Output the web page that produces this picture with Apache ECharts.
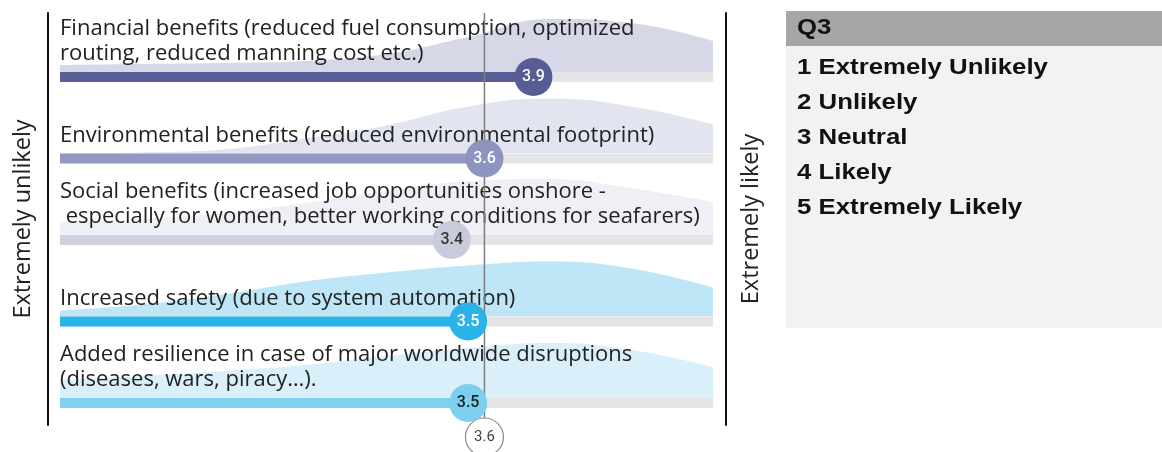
<!DOCTYPE html>
<html>
<head>
<meta charset="utf-8">
<title>Q3 – expected benefits</title>
<script src="https://cdn.jsdelivr.net/npm/echarts@6/dist/echarts.min.js"></script>
<style>
  html, body { margin: 0; padding: 0; background: #ffffff; }
  #chart { width: 1162px; height: 452px; }
</style>
</head>
<body>
<div id="chart"></div>
<script>
// ---- data ----
const categories = [
  'Financial benefits (reduced fuel consumption, optimized\nrouting, reduced manning cost etc.)',
  'Environmental benefits (reduced environmental footprint)',
  'Social benefits (increased job opportunities onshore -\n especially for women, better working conditions for seafarers)',
  'Increased safety (due to system automation)',
  'Added resilience in case of major worldwide disruptions\n(diseases, wars, piracy\u2026).'
];
const means = [3.9, 3.6, 3.4, 3.5, 3.5];
const overallMean = 3.6;
const scaleMin = 1;
const scaleMax = 5;

// answer distribution shapes, sampled along the 1–5 scale
const scorePoints = [1, 1.5, 2, 2.5, 3, 3.5, 4, 4.5, 5];
const densityFinancial     = [7, 8, 9, 11, 18, 35, 53, 49, 31];
const densityEnvironmental = [0, 1, 4, 15, 28, 47, 55, 47, 29];
const densitySocial        = [13, 16, 22, 32, 44, 54, 56, 47, 33];
const densitySafety        = [6, 12, 22, 35, 44, 51, 55, 48, 29];
const densityResilience    = [18, 22, 27, 33, 42, 50, 55, 48, 31];
const densities = [densityFinancial, densityEnvironmental, densitySocial, densitySafety, densityResilience];

const sideLabels = ['Extremely unlikely', 'Extremely likely'];
const legendTitle = 'Q3';
const legendItems = ['1 Extremely Unlikely', '2 Unlikely', '3 Neutral', '4 Likely', '5 Extremely Likely'];

// ---- styling ----
const barColors    = ['#595e96', '#9399c3', '#cfd1e0', '#29b4e8', '#80d1ef'];
const bubbleColors = ['#575c94', '#8d94c0', '#c9cbdd', '#2ab3e7', '#7dcfee'];
const bubbleText   = ['#ffffff', '#ffffff', '#333333', '#ffffff', '#1e1e1e'];
const shapeColors  = ['#d6d8e7', '#e2e4ef', '#eff0f6', '#bfe6f6', '#d9f0fa'];
const trackColor = '#e5e5e5';
const textFont = '"Open Sans", sans-serif';

const plotLeft = 60, plotRight = 449;
const bandTop = 36.25, bandHeight = 81.5, rowCount = categories.length;
const barWidth = 10, shapeHeight = 60;

const grids = [
  { left: plotLeft, right: plotRight, top: bandTop, height: bandHeight * rowCount }, // bars
  { left: 48, right: 436, top: 13, height: 412 },                                  // side rules
  { left: plotLeft, right: plotRight, top: 13, height: 424 }                        // overall mean
];
const xAxes = [
  { gridIndex: 0, type: 'value', min: scaleMin, max: scaleMax, show: false },
  { gridIndex: 1, type: 'value', min: 0, max: 1, show: false },
  { gridIndex: 2, type: 'value', min: scaleMin, max: scaleMax, show: false }
];
const sideAxisCommon = {
  gridIndex: 1, type: 'value', min: 0, max: 1,
  axisLine: { show: true, lineStyle: { color: '#111111', width: 2 } },
  axisTick: { show: false }, axisLabel: { show: false }, splitLine: { show: false },
  nameLocation: 'middle', nameRotate: 90, nameGap: 13,
  nameTextStyle: { fontFamily: textFont, fontSize: 23.5, color: '#222222' }
};
const yAxes = [
  { gridIndex: 0, type: 'category', data: categories, inverse: true, show: false },
  Object.assign({}, sideAxisCommon, { position: 'left', name: sideLabels[0] }),
  Object.assign({}, sideAxisCommon, { position: 'right', name: sideLabels[1] }),
  { gridIndex: 2, type: 'value', min: 0, max: 1, show: false }
];

const series = [];

// distribution shapes: one small grid sitting on top of each bar
densities.forEach((dens, i) => {
  const rowCenter = bandTop + bandHeight * (i + 0.5);
  grids.push({ left: plotLeft, right: plotRight, top: rowCenter - barWidth / 2 - shapeHeight, height: shapeHeight });
  xAxes.push({ gridIndex: 3 + i, type: 'value', min: scaleMin, max: scaleMax, show: false });
  yAxes.push({ gridIndex: 3 + i, type: 'value', min: 0, max: shapeHeight, show: false });
  series.push({
    type: 'line', xAxisIndex: 3 + i, yAxisIndex: 4 + i, z: 1,
    smooth: 0.45, symbol: 'none', silent: true,
    lineStyle: { width: 0 },
    areaStyle: { color: shapeColors[i], opacity: 1 },
    data: scorePoints.map((s, k) => [s, dens[k]])
  });
});

// grey track across the whole scale, carrying the statement text
series.push({
  type: 'bar', xAxisIndex: 0, yAxisIndex: 0, z: 2,
  barWidth: barWidth, clip: true, silent: true,
  itemStyle: { color: trackColor },
  label: {
    show: true, position: [0, -5.5], align: 'left', verticalAlign: 'bottom',
    formatter: '{b}', fontFamily: textFont, fontSize: 22, lineHeight: 25.5, color: '#222222'
  },
  data: means.map(() => scaleMax)
});

// mean score bars
series.push({
  type: 'bar', xAxisIndex: 0, yAxisIndex: 0, z: 2,
  barWidth: barWidth, barGap: '-100%', clip: true, silent: true,
  data: means.map((m, i) => ({ value: m, itemStyle: { color: barColors[i] } }))
});

// overall mean rule and its marker
series.push({
  type: 'line', xAxisIndex: 2, yAxisIndex: 3, z: 3, symbol: 'none', silent: true,
  lineStyle: { color: '#7d7d7d', width: 1.5 },
  data: [[overallMean, 0], [overallMean, 1]]
});
series.push({
  type: 'scatter', xAxisIndex: 2, yAxisIndex: 3, z: 10, symbolSize: 38, silent: true,
  itemStyle: { color: '#ffffff', borderColor: '#8a8a8a', borderWidth: 1.2, opacity: 1 },
  label: {
    show: true, position: 'inside', color: '#444444',
    fontFamily: 'Roboto, sans-serif', fontSize: 15,
    formatter: p => p.value[0].toFixed(1)
  },
  data: [[overallMean, 0]]
});

// mean score bubbles
series.push({
  type: 'scatter', xAxisIndex: 0, yAxisIndex: 0, z: 10, symbolSize: 38, silent: true,
  itemStyle: { opacity: 1 },
  label: {
    show: true, position: 'inside', fontFamily: 'Roboto, sans-serif', fontSize: 16, fontWeight: 500,
    formatter: p => p.value[0].toFixed(1)
  },
  data: means.map((m, i) => ({
    value: [m, i],
    itemStyle: { color: bubbleColors[i], opacity: 1 },
    label: { color: bubbleText[i] }
  }))
});

// answer scale key
const keyLeft = 786, keyTop = 11, keyWidth = 376, headHeight = 35, keyHeight = 317;
const keyFont = 'bold 21.5px "Liberation Sans", Arial, sans-serif';
const keyStretch = 1.2;
const keyGraphics = [
  { type: 'rect', left: keyLeft, top: keyTop, shape: { width: keyWidth, height: keyHeight }, style: { fill: '#f2f2f2' } },
  { type: 'rect', left: keyLeft, top: keyTop, shape: { width: keyWidth, height: headHeight }, style: { fill: '#a6a6a6' } },
  { type: 'text', x: 797, y: keyTop + headHeight / 2, scaleX: keyStretch,
    style: { text: legendTitle, font: keyFont, fill: '#111111', textVerticalAlign: 'middle' } }
];
legendItems.forEach((t, i) => {
  keyGraphics.push({
    type: 'text', x: 797, y: 68 + i * 35, scaleX: keyStretch,
    style: { text: t, font: keyFont, fill: '#111111', textVerticalAlign: 'middle' }
  });
});

const chart = echarts.init(document.getElementById('chart'), null, { renderer: 'canvas' });
chart.setOption({
  animation: false,
  backgroundColor: '#ffffff',
  grid: grids,
  xAxis: xAxes,
  yAxis: yAxes,
  series: series,
  graphic: keyGraphics
});
</script>
</body>
</html>
